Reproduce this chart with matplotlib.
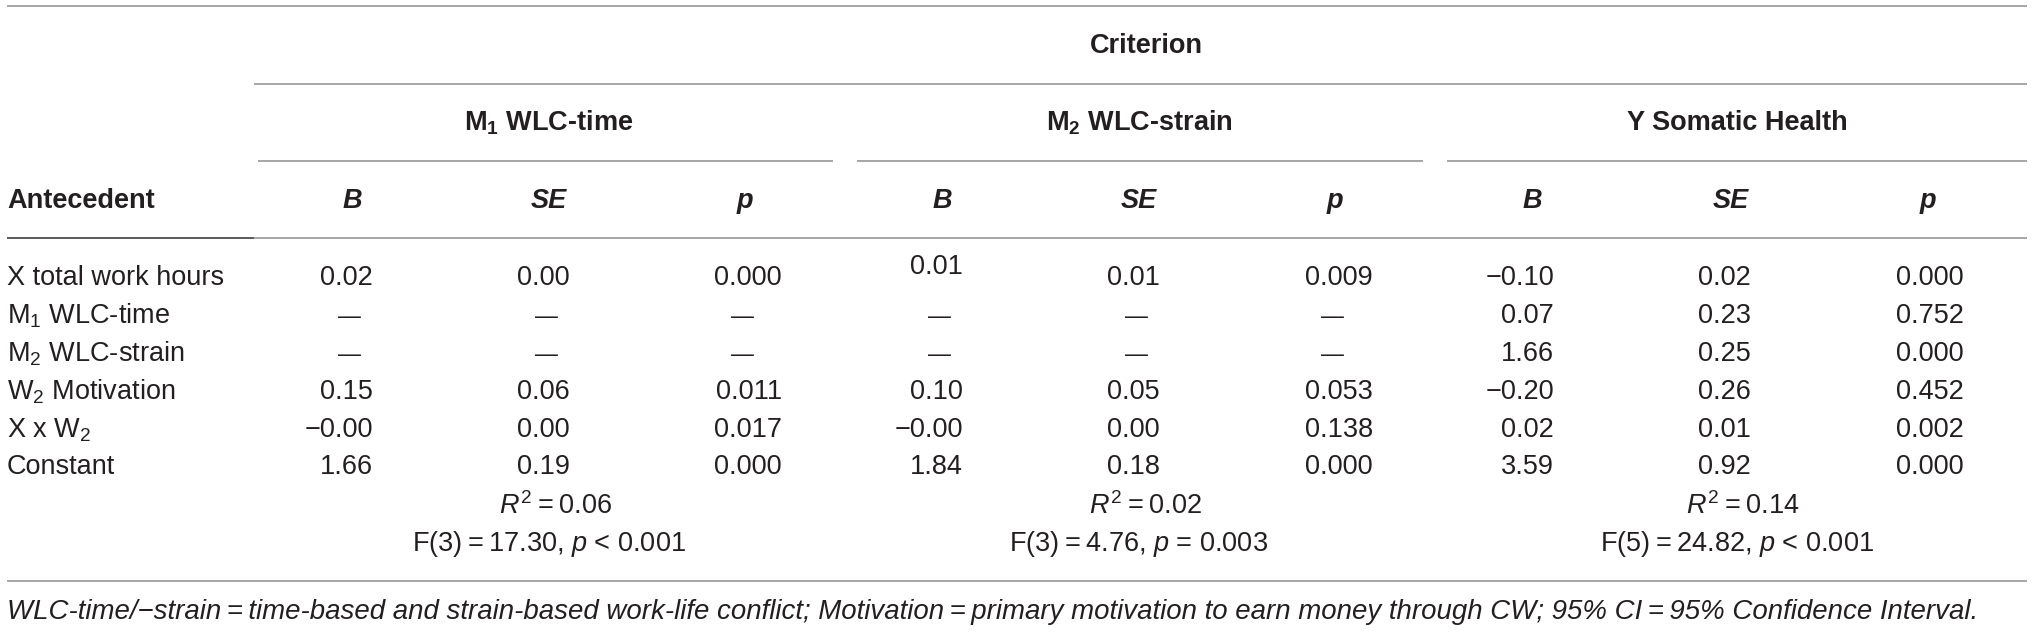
import matplotlib
matplotlib.use("Agg")
import matplotlib.pyplot as plt

plt.rcParams['font.family'] = ['Liberation Sans', 'DejaVu Sans']
plt.rcParams['mathtext.fontset'] = 'custom'
plt.rcParams['mathtext.rm'] = 'Liberation Sans'
plt.rcParams['mathtext.it'] = 'Liberation Sans:italic'
plt.rcParams['mathtext.bf'] = 'Liberation Sans:bold'

# ---------------- data ----------------
criterion_title = "Criterion"
group_titles = [r"M$_\mathbf{1}$ WLC-time", r"M$_\mathbf{2}$ WLC-strain", "Y Somatic Health"]
col_headers = ["B", "SE", "p"]
row_labels = ["X total work hours", r"M$_1$ WLC-time", r"M$_2$ WLC-strain",
              r"W$_2$ Motivation", r"X x W$_2$", "Constant"]

m1_B = ["0.02", "\u2014", "\u2014", "0.15", "\u22120.00", "1.66"]
m1_SE = ["0.00", "\u2014", "\u2014", "0.06", "0.00", "0.19"]
m1_p = ["0.000", "\u2014", "\u2014", "0.011", "0.017", "0.000"]

m2_B = ["0.01", "\u2014", "\u2014", "0.10", "\u22120.00", "1.84"]
m2_SE = ["0.01", "\u2014", "\u2014", "0.05", "0.00", "0.18"]
m2_p = ["0.009", "\u2014", "\u2014", "0.053", "0.138", "0.000"]

y_B = ["\u22120.10", "0.07", "1.66", "\u22120.20", "0.02", "3.59"]
y_SE = ["0.02", "0.23", "0.25", "0.26", "0.01", "0.92"]
y_p = ["0.000", "0.752", "0.000", "0.452", "0.002", "0.000"]

r2_values = ["0.06", "0.02", "0.14"]
f_df = ["3", "3", "5"]
f_values = ["17.30", "4.76", "24.82"]
f_p = ["< 0.001", "= 0.003", "< 0.001"]

footnote = ("WLC-time/\u2212strain\u2009=\u2009time-based and strain-based work-life conflict; "
            "Motivation\u2009=\u2009primary motivation to earn money through CW; "
            "95% CI\u2009=\u200995% Confidence Interval.")

groups = [(m1_B, m1_SE, m1_p), (m2_B, m2_SE, m2_p), (y_B, y_SE, y_p)]

# ---------------- layout ----------------
W, H = 2032, 633
fig = plt.figure(figsize=(W / 100, H / 100), dpi=100)
ax = fig.add_axes([0, 0, 1, 1])
ax.set_xlim(0, W)
ax.set_ylim(H, 0)
ax.axis('off')

TXT = '#231f20'
LINE = '#a6a6a6'
FS = 19.5
left, right = 7, 2027

group_spans = [(258, 833), (857, 1423), (1447, 2027)]
group_centers = [549, 1139, 1737]
num_right = [[373, 570, 782], [963, 1160, 1373], [1554, 1751, 1964]]
hdr_center = [[352, 549, 745], [942, 1139, 1335], [1532, 1731, 1928]]

y_top = 6
y_crit_text = 46
y_crit_line = 84
y_group_text = 123
y_group_line = 161
y_hdr = 201
y_hdr_line = 238
row_y = [278, 316, 354, 392, 430, 467]
y_r2 = 506
y_f = 544
y_bottom = 581
y_foot = 612

lw = 1.4
ax.plot([left, right], [y_top, y_top], color=LINE, lw=lw, solid_capstyle='butt')
ax.plot([254, right], [y_crit_line, y_crit_line], color=LINE, lw=lw, solid_capstyle='butt')
for (a, b) in group_spans:
    ax.plot([a, b], [y_group_line, y_group_line], color=LINE, lw=lw, solid_capstyle='butt')
ax.plot([left, 254], [y_hdr_line, y_hdr_line], color='#5a5a5a', lw=lw, solid_capstyle='butt')
ax.plot([254, right], [y_hdr_line, y_hdr_line], color=LINE, lw=lw, solid_capstyle='butt')
ax.plot([left, right], [y_bottom, y_bottom], color=LINE, lw=lw, solid_capstyle='butt')

ax.text(1146, y_crit_text, criterion_title, ha='center', va='center',
        fontsize=FS, fontweight='bold', color=TXT)
for gi, title in enumerate(group_titles):
    ax.text(group_centers[gi], y_group_text, title, ha='center', va='center',
            fontsize=FS, fontweight='bold', color=TXT)

ax.text(left, y_hdr, "Antecedent", ha='left', va='center', fontsize=FS,
        fontweight='bold', color=TXT)
for gi in range(3):
    for ci, h in enumerate(col_headers):
        ax.text(hdr_center[gi][ci], y_hdr, h, ha='center', va='center', fontsize=FS,
                fontweight='bold', fontstyle='italic', color=TXT)

for ri, lab in enumerate(row_labels):
    ax.text(left, row_y[ri], lab, ha='left', va='center', fontsize=FS, color=TXT)

for gi, cols in enumerate(groups):
    for ci, vals in enumerate(cols):
        for ri, v in enumerate(vals):
            yy = row_y[ri]
            if gi == 1 and ci == 0 and ri == 0:
                yy -= 11
            if v == "\u2014":
                ax.text(hdr_center[gi][ci] - 3, yy, v, ha='center', va='center',
                        fontsize=FS - 3, color=TXT)
            else:
                ax.text(num_right[gi][ci], yy, v, ha='right', va='center',
                        fontsize=FS, color=TXT)

for gi in range(3):
    ax.text(group_centers[gi] + 6, y_r2, r"$R^2$" + "\u2009=\u2009" + r2_values[gi],
            ha='center', va='center', fontsize=FS, color=TXT)
    ax.text(group_centers[gi], y_f,
            "F(" + f_df[gi] + ")\u2009=\u2009" + f_values[gi] + r", $p$ " + f_p[gi],
            ha='center', va='center', fontsize=FS, color=TXT)

ax.text(left, y_foot, footnote, ha='left', va='center', fontsize=FS + 0.4,
        fontstyle='italic', color=TXT)

fig.savefig("out.png", dpi=100)
